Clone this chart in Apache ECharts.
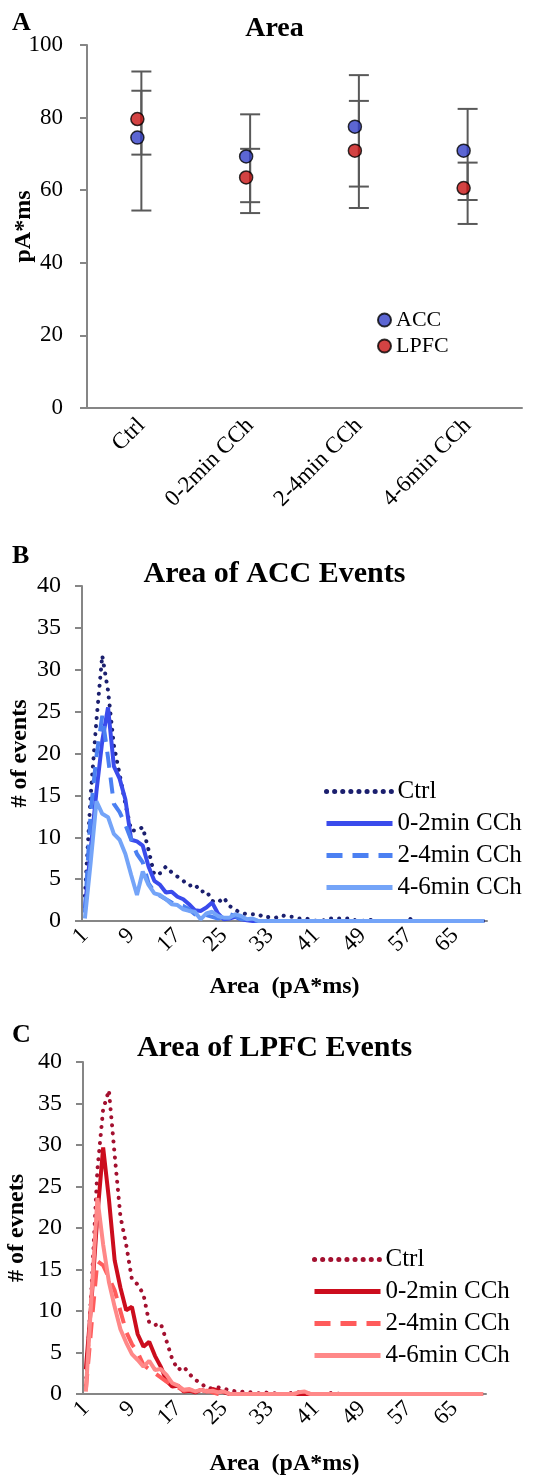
<!DOCTYPE html>
<html>
<head>
<meta charset="utf-8">
<script src="https://cdn.jsdelivr.net/npm/echarts@6/dist/echarts.min.js"></script>
<style>
  html, body { margin: 0; padding: 0; background: #fff; }
  #main { width: 549px; height: 1478px; }
</style>
</head>
<body>
<div id="main"></div>
<script>
// panel A - mean area per condition with error bars
const conditions = ['Ctrl', '0-2min CCh', '2-4min CCh', '4-6min CCh'];
const accMean = [74.5, 69.3, 77.5, 70.9];
const accLow = [54.4, 56.7, 61.0, 57.3];
const accHigh = [92.7, 80.9, 91.7, 82.4];
const lpfcMean = [79.6, 63.5, 70.9, 60.6];
const lpfcLow = [69.8, 53.7, 55.1, 50.7];
const lpfcHigh = [87.4, 71.4, 84.6, 67.6];

// panels B and C - event area histograms, bins 1..70
const bins = [];
for (let i = 1; i <= 70; i++) bins.push(String(i));

const accCtrl = [3, 15, 24, 31.7, 27.5, 21, 17.5, 14, 10.8, 10.8,
  11.2, 8.5, 5.5, 5.7, 6.5, 5.8, 5.3, 4.8, 4.2, 4.4,
  3.5, 3.6, 2.4, 2.2, 2.8, 1.8, 1.3, 1.0, 0.8, 0.8,
  0.8, 0.4, 0.5, 0.4, 0.7, 0.5, 0.5, 0.3, 0.3, 0.2,
  0, 0, 0.3, 0.3, 0.3, 0.3, 0.3, 0, 0, 0.2,
  0, 0, 0, 0, 0, 0, 0.3, 0, 0, 0,
  0, 0, 0, 0, 0, 0, 0, 0, 0, 0];
const acc02 = [1.5, 8.5, 15.5, 21.5, 25.5, 18.5, 17, 14.5, 9.7, 9.5,
  9.0, 6.5, 4.8, 4.3, 3.4, 3.5, 2.9, 2.6, 2.0, 1.3,
  1.2, 1.6, 2.2, 0.9, 0.2, 0.3, 0.5, 0.2, 0.1, 0,
  0, 0, 0, 0, 0, 0, 0, 0, 0, 0,
  0, 0, 0, 0, 0, 0, 0, 0, 0, 0,
  0, 0, 0, 0, 0, 0, 0, 0, 0, 0,
  0, 0, 0, 0, 0, 0, 0, 0, 0, 0];
const acc24 = [1, 13, 19.7, 24.5, 19.5, 14, 13, 11.5, 9.7, 8,
  7, 4.5, 3.5, 3, 2.6, 2.2, 2, 1.8, 1.4, 0.8,
  0.6, 0.7, 0.5, 0.3, 0.5, 0.8, 0.6, 0.2, 0.3, 0.1,
  0, 0, 0, 0, 0, 0, 0, 0, 0, 0,
  0, 0, 0, 0, 0, 0, 0, 0, 0, 0,
  0, 0, 0, 0, 0, 0, 0, 0, 0, 0,
  0, 0, 0, 0, 0, 0, 0, 0, 0, 0];
const acc46 = [0.3, 7, 14.3, 12.8, 12.4, 10.4, 9.7, 8, 5.5, 3.1,
  5.9, 4.3, 3.3, 3.1, 2.6, 2.0, 1.9, 1.4, 1.2, 1.1,
  0.2, 0.9, 1.1, 0.6, 0.4, 0.4, 0.8, 0.6, 0.2, 0.3,
  0, 0, 0, 0, 0, 0, 0, 0, 0, 0,
  0, 0, 0, 0, 0, 0, 0, 0, 0, 0,
  0, 0, 0, 0, 0, 0, 0, 0, 0, 0,
  0, 0, 0, 0, 0, 0, 0, 0, 0, 0];

const lpfcCtrl = [1, 13, 27, 34.3, 36.6, 28.8, 21.4, 18, 13.8, 13.2,
  12, 8.6, 8.3, 8.5, 6.4, 4.2, 2.9, 3.3, 2.4, 1.7,
  1.3, 0.7, 0.7, 0.8, 0.6, 0.5, 0.3, 0.3, 0.2, 0.2,
  0.1, 0.2, 0.1, 0.1, 0, 0, 0.2, 0.2, 0, 0,
  0, 0, 0, 0.2, 0, 0, 0, 0, 0, 0,
  0, 0, 0, 0, 0, 0, 0, 0, 0, 0,
  0, 0, 0, 0, 0, 0, 0, 0, 0, 0];
const lpfc02 = [3, 11.5, 21.5, 29.7, 23.5, 16.1, 12.8, 10.1, 10.5, 7.2,
  5.7, 6.3, 4.6, 3.3, 1.6, 0.9, 1.0, 0.3, 0.4, 0.2,
  0.5, 0.3, 0.6, 0.4, 0.2, 0, 0, 0, 0, 0,
  0, 0, 0, 0, 0, 0, 0, 0, 0, 0,
  0, 0, 0, 0, 0, 0, 0, 0, 0, 0,
  0, 0, 0, 0, 0, 0, 0, 0, 0, 0,
  0, 0, 0, 0, 0, 0, 0, 0, 0, 0];
const lpfc24 = [0.5, 8.5, 16, 15.5, 14, 12.5, 10, 7.5, 6, 5,
  3.5, 3, 2.5, 2, 1.5, 1, 0.8, 0.4, 0.5, 0.3,
  0.3, 0.4, 0.2, 0, 0, 0, 0, 0, 0, 0,
  0, 0, 0, 0, 0, 0, 0, 0, 0.2, 0,
  0, 0, 0, 0, 0, 0, 0, 0, 0, 0,
  0, 0, 0, 0, 0, 0, 0, 0, 0, 0,
  0, 0, 0, 0, 0, 0, 0, 0, 0, 0];
const lpfc46 = [0.3, 12, 23.6, 18, 13.5, 10.5, 7.8, 6.2, 4.8, 4.1,
  3.3, 4.0, 2.9, 3.0, 2.3, 1.3, 1.0, 0.5, 0.6, 0.3,
  0.5, 0.3, 0.4, 0.2, 0.3, 0, 0, 0, 0, 0,
  0, 0, 0, 0, 0, 0, 0, 0.2, 0.3, 0,
  0, 0, 0, 0, 0, 0, 0, 0, 0, 0,
  0, 0, 0, 0, 0, 0, 0, 0, 0, 0,
  0, 0, 0, 0, 0, 0, 0, 0, 0, 0];

const FONT = 'Liberation Serif';
const AXIS_GRAY = '#868686';

const chart = echarts.init(document.getElementById('main'), null, { renderer: 'canvas' });

// error bar drawn as a vertical stem with two caps
function errorBar(params, api) {
  const top = api.coord([api.value(0), api.value(2)]);
  const bot = api.coord([api.value(0), api.value(1)]);
  const x = top[0];
  const cap = 10;
  const style = { stroke: '#595959', lineWidth: 2 };
  return {
    type: 'group',
    children: [
      { type: 'line', shape: { x1: x, y1: top[1], x2: x, y2: bot[1] }, style: style },
      { type: 'line', shape: { x1: x - cap, y1: top[1], x2: x + cap, y2: top[1] }, style: style },
      { type: 'line', shape: { x1: x - cap, y1: bot[1], x2: x + cap, y2: bot[1] }, style: style }
    ]
  };
}

function valueAxis(gridIndex, max, interval, name, nameGap, labelSize, margin) {
  return {
    type: 'value', gridIndex: gridIndex, min: 0, max: max, interval: interval,
    name: name, nameLocation: 'middle', nameGap: nameGap, nameMoveOverlap: false,
    nameTextStyle: { fontFamily: FONT, fontWeight: 'bold', fontSize: 24, color: '#000' },
    splitLine: { show: false },
    axisLine: { show: true, lineStyle: { color: AXIS_GRAY, width: 2 } },
    axisTick: { show: true, length: 7, lineStyle: { color: AXIS_GRAY, width: 2 } },
    axisLabel: { fontFamily: FONT, fontSize: labelSize, color: '#000', margin: margin }
  };
}

function binAxis(gridIndex, nameGap) {
  return {
    type: 'category', gridIndex: gridIndex, data: bins, boundaryGap: true,
    name: 'Area  (pA*ms)', nameLocation: 'middle', nameGap: nameGap,
    nameTextStyle: { fontFamily: FONT, fontWeight: 'bold', fontSize: 24, color: '#000' },
    axisLine: { lineStyle: { color: AXIS_GRAY, width: 2 } },
    axisTick: { interval: 9, length: 6, lineStyle: { color: AXIS_GRAY, width: 2 } },
    axisLabel: { interval: 7, rotate: 45, fontFamily: FONT, fontSize: 23, color: '#000', margin: 11 }
  };
}

function histLine(prefix, label, data, color, dash, z) {
  return {
    name: prefix + label, type: 'line', xAxisIndex: prefix === 'B:' ? 1 : 2,
    yAxisIndex: prefix === 'B:' ? 1 : 2,
    data: data, showSymbol: false, symbol: 'none', smooth: false, z: z,
    lineStyle: { color: color, width: 4,
      type: dash === 'dot' ? [0.1, 8] : (dash === 'dash' ? [16, 10] : 'solid'),
      cap: dash === 'dot' ? 'round' : 'butt' },
    itemStyle: { color: color },
    emphasis: { disabled: true }
  };
}

const legendText = { fontFamily: FONT, fontSize: 25, color: '#000' };
const letterStyle = { fontFamily: FONT, fontWeight: 'bold', fontSize: 26, fill: '#000' };
const titleFont = size => ({ fontFamily: FONT, fontWeight: 'bold', fontSize: size, color: '#000' });

const option = {
  animation: false,
  backgroundColor: '#fff',
  title: [
    { text: 'Area', left: 'center', top: 10, textStyle: titleFont(28) },
    { text: 'Area of ACC Events', left: 'center', top: 554, textStyle: titleFont(30) },
    { text: 'Area of LPFC Events', left: 'center', top: 1028, textStyle: titleFont(30) }
  ],
  graphic: [
    { type: 'text', left: 12, top: 10, style: Object.assign({ text: 'A' }, letterStyle) },
    { type: 'text', left: 12, top: 543, style: Object.assign({ text: 'B' }, letterStyle) },
    { type: 'text', left: 12, top: 1022, style: Object.assign({ text: 'C' }, letterStyle) }
  ],
  legend: [
    {
      data: ['ACC', 'LPFC'], orient: 'vertical', left: 372, top: 304,
      itemWidth: 13, itemHeight: 13, itemGap: 4, icon: 'circle',
      textStyle: { fontFamily: FONT, fontSize: 22, color: '#000' }, selectedMode: false
    },
    {
      data: ['B:Ctrl', 'B:0-2min CCh', 'B:2-4min CCh', 'B:4-6min CCh'],
      orient: 'vertical', left: 319, top: 774, itemWidth: 66, itemHeight: 14, itemGap: 7,
      itemStyle: { opacity: 0 }, lineStyle: { width: 5 },
      formatter: n => n.slice(2), textStyle: legendText, selectedMode: false
    },
    {
      data: ['C:Ctrl', 'C:0-2min CCh', 'C:2-4min CCh', 'C:4-6min CCh'],
      orient: 'vertical', left: 307, top: 1242, itemWidth: 66, itemHeight: 14, itemGap: 7,
      itemStyle: { opacity: 0 }, lineStyle: { width: 5 },
      formatter: n => n.slice(2), textStyle: legendText, selectedMode: false
    }
  ],
  grid: [
    { left: 87, top: 45, width: 435, height: 363, outerBoundsMode: 'none' },
    { left: 82, top: 586, width: 405, height: 335, outerBoundsMode: 'none' },
    { left: 83, top: 1062, width: 403, height: 332, outerBoundsMode: 'none' }
  ],
  xAxis: [
    {
      type: 'category', gridIndex: 0, data: conditions, boundaryGap: true,
      axisLine: { lineStyle: { color: AXIS_GRAY, width: 2 } },
      axisTick: { length: 6, lineStyle: { color: AXIS_GRAY, width: 2 } },
      axisLabel: { rotate: 45, fontFamily: FONT, fontSize: 23, color: '#000', margin: 14 }
    },
    binAxis(1, 54),
    binAxis(2, 58)
  ],
  yAxis: [
    valueAxis(0, 100, 20, 'pA*ms', 51, 23, 24),
    valueAxis(1, 40, 5, '# of events', 50, 24, 21),
    valueAxis(2, 40, 5, '# of evnets', 54, 24, 21)
  ],
  series: [
    { name: 'accErr', type: 'custom', xAxisIndex: 0, yAxisIndex: 0, renderItem: errorBar,
      encode: { x: 0, y: [1, 2] }, z: 1, silent: true,
      data: accLow.map((lo, i) => [i, lo, accHigh[i]]) },
    { name: 'lpfcErr', type: 'custom', xAxisIndex: 0, yAxisIndex: 0, renderItem: errorBar,
      encode: { x: 0, y: [1, 2] }, z: 1, silent: true,
      data: lpfcLow.map((lo, i) => [i, lo, lpfcHigh[i]]) },
    { name: 'ACC', type: 'scatter', xAxisIndex: 0, yAxisIndex: 0, data: accMean,
      symbol: 'circle', symbolSize: 13, symbolOffset: [-4, 0], z: 3,
      itemStyle: { color: '#3340c8', borderColor: '#000', borderWidth: 1.5 } },
    { name: 'LPFC', type: 'scatter', xAxisIndex: 0, yAxisIndex: 0, data: lpfcMean,
      symbol: 'circle', symbolSize: 13, symbolOffset: [-4, 0], z: 3,
      itemStyle: { color: '#c81414', borderColor: '#000', borderWidth: 1.5 } },

    histLine('B:', 'Ctrl', accCtrl, '#1b1f6e', 'dot', 2),
    histLine('B:', '0-2min CCh', acc02, '#3a4bec', 'solid', 3),
    histLine('B:', '2-4min CCh', acc24, '#4b80f2', 'dash', 4),
    histLine('B:', '4-6min CCh', acc46, '#74a4f8', 'solid', 5),

    histLine('C:', 'Ctrl', lpfcCtrl, '#a3102f', 'dot', 2),
    histLine('C:', '0-2min CCh', lpfc02, '#cc0d1d', 'solid', 3),
    histLine('C:', '2-4min CCh', lpfc24, '#ff5b5b', 'dash', 4),
    histLine('C:', '4-6min CCh', lpfc46, '#ff8888', 'solid', 5)
  ]
};

chart.setOption(option);
</script>
</body>
</html>
